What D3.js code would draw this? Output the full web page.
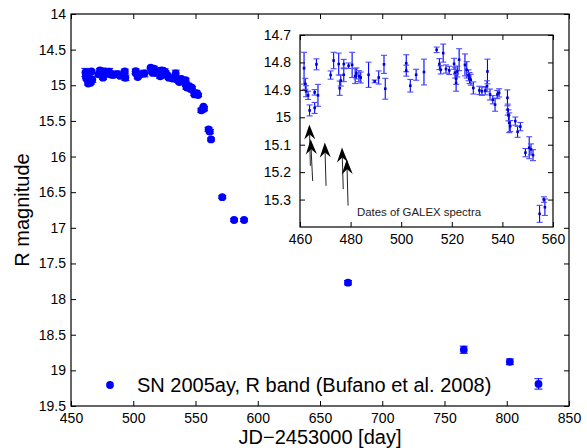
<!DOCTYPE html>
<html>
<head>
<meta charset="utf-8">
<script src="https://cdn.jsdelivr.net/npm/d3@7"></script>
<style>
  body { margin: 0; background: #fff; }
  svg { display: block; font-family: "Liberation Sans", Arial, Helvetica, sans-serif; }
</style>
</head>
<body>
<svg id="chart"></svg>
<script>
// R band photometry, SN 2005ay (day = JD - 2453000)
const days = [461.6, 462.1, 462.4, 463.2, 463.8, 465.8, 465.8, 466.5, 467.1,
  472.1, 473.3, 475.3, 475.7, 476.1, 477.3, 477.3, 479.2, 480.6, 481.8, 482.3, 483.3, 484.0,
  487.1, 489.5, 491.1, 493.2, 493.7, 502.0, 502.0, 503.6, 505.9, 509.0,
  514.0, 515.1, 515.6, 516.6, 517.7, 519.0, 520.9, 521.3, 521.7, 521.7, 522.2, 522.9,
  525.2, 525.9, 526.6, 527.0, 527.5, 528.5, 530.9, 531.9, 533.2, 533.9, 534.1, 535.1,
  536.2, 537.1, 538.0, 538.7, 542.0, 542.1, 542.4, 542.7, 543.1, 545.1, 546.0, 547.1,
  549.1, 550.6, 551.3, 552.1, 554.7, 556.4, 556.8,
  560.5, 561.5, 562.5, 571.5, 581, 589, 672.5, 765.5, 802.5, 825.5];
const mags = [14.821, 14.878, 14.905, 14.92, 14.975, 14.909, 14.966, 14.807, 14.92,
  14.846, 14.793, 14.806, 14.894, 14.866, 14.806, 14.845, 14.812, 14.809, 14.85, 14.84, 14.85, 14.855,
  14.845, 14.869, 14.855, 14.807, 14.896, 14.803, 14.83, 14.885, 14.845, 14.835,
  14.754, 14.806, 14.827, 14.766, 14.824, 14.829, 14.805, 14.837, 14.86, 14.875, 14.833, 14.79,
  14.809, 14.827, 14.847, 14.857, 14.863, 14.893, 14.902, 14.905, 14.903, 14.887, 14.833, 14.917,
  14.936, 14.954, 14.917, 14.911, 14.929, 14.972, 14.993, 15.02, 15.032, 15.014, 15.053, 15.034,
  15.129, 15.111, 15.117, 15.138, 15.352, 15.30, 15.328,
  15.62, 15.65, 15.76, 16.57, 16.89, 16.89, 17.77, 18.71, 18.88, 19.19];
const errs = [0.058, 0.02, 0.02, 0.015, 0.02, 0.01, 0.02, 0.02, 0.04,
  0.015, 0.03, 0.04, 0.026, 0.02, 0.017, 0.025, 0.01, 0.046, 0.027, 0.02, 0.02, 0.02,
  0.046, 0.005, 0.024, 0.033, 0.038, 0.031, 0.02, 0.023, 0.02, 0.047,
  0.01, 0.02, 0.015, 0.033, 0.015, 0.015, 0.02, 0.02, 0.02, 0.03, 0.02, 0.04,
  0.04, 0.03, 0.02, 0.02, 0.02, 0.022, 0.015, 0.015, 0.015, 0.02, 0.045, 0.02,
  0.015, 0.024, 0.015, 0.015, 0.029, 0.02, 0.02, 0.036, 0.02, 0.015, 0.02, 0.015,
  0.015, 0.04, 0.02, 0.02, 0.031, 0.01, 0.03,
  0.03, 0.03, 0.02, 0.02, 0.02, 0.02, 0.03, 0.05, 0.04, 0.073];

const xTicks = [450, 500, 550, 600, 650, 700, 750, 800, 850];
const yTicks = [14, 14.5, 15, 15.5, 16, 16.5, 17, 17.5, 18, 18.5, 19, 19.5];
const insetXTicks = [460, 480, 500, 520, 540, 560];
const insetYTicks = [14.7, 14.8, 14.9, 15, 15.1, 15.2, 15.3];

// GALEX spectra arrows in inset data units: tail -> tip
const arrowTailDay = [464.1, 465.0, 470.3, 477.1, 479.0];
const arrowTailMag = [15.177, 15.232, 15.25, 15.262, 15.322];
const arrowTipDay = [463.7, 464.2, 469.8, 476.6, 478.5];
const arrowTipMag = [15.026, 15.08, 15.092, 15.11, 15.153];

const legendLabel = 'SN 2005ay, R band (Bufano et al. 2008)';

const width = 587;
const height = 448;
const blue = '#0000ff';
const font = 14;

const svg = d3.select('#chart').attr('width', width).attr('height', height);

const data = days.map((d, i) => ({ day: d, mag: mags[i], err: errs[i] }));

// ---- main axes
const main = { left: 71, right: 569, top: 14, bottom: 406 };
const x = d3.scaleLinear().domain([450, 850]).range([main.left, main.right]);
const y = d3.scaleLinear().domain([14, 19.5]).range([main.top, main.bottom]);

const drawAxes = (box, xs, ys, xt, yt, xpad, ypad, fmtY) => {
  const g = svg.append('g');
  g.append('g').attr('transform', `translate(0,${box.bottom})`)
    .call(d3.axisBottom(xs).tickValues(xt).tickSize(-5).tickPadding(xpad).tickFormat(d => d));
  g.append('g').attr('transform', `translate(${box.left},0)`)
    .call(d3.axisLeft(ys).tickValues(yt).tickSize(-5).tickPadding(ypad).tickFormat(fmtY));
  g.append('g').attr('transform', `translate(0,${box.top})`)
    .call(d3.axisTop(xs).tickValues(xt).tickSize(-5).tickFormat(''));
  g.append('g').attr('transform', `translate(${box.right},0)`)
    .call(d3.axisRight(ys).tickValues(yt).tickSize(-5).tickFormat(''));
  g.selectAll('.domain').remove();
  g.selectAll('.tick line').attr('stroke', '#000');
  g.selectAll('.tick text').attr('font-size', font).attr('fill', '#000')
    .attr('font-family', '"Liberation Sans", Arial, sans-serif');
  g.append('rect')
    .attr('x', box.left).attr('y', box.top)
    .attr('width', box.right - box.left).attr('height', box.bottom - box.top)
    .attr('fill', 'none').attr('stroke', '#000').attr('stroke-width', 1.2);
};

drawAxes(main, x, y, xTicks, yTicks, 7.5, 5, d => d);

// main data: error bars + circles
const mg = svg.append('g');
mg.selectAll('line.err').data(data).enter().append('line')
  .attr('x1', d => x(d.day)).attr('x2', d => x(d.day))
  .attr('y1', d => y(d.mag - d.err)).attr('y2', d => y(d.mag + d.err))
  .attr('stroke', blue).attr('stroke-width', 1);
[-1, 1].forEach(s => {
  mg.selectAll(null).data(data).enter().append('line')
    .attr('x1', d => x(d.day) - 4).attr('x2', d => x(d.day) + 4)
    .attr('y1', d => y(d.mag + s * d.err)).attr('y2', d => y(d.mag + s * d.err))
    .attr('stroke', blue).attr('stroke-width', 1);
});
mg.selectAll('circle').data(data).enter().append('circle')
  .attr('cx', d => x(d.day)).attr('cy', d => y(d.mag)).attr('r', 3.9)
  .attr('fill', blue);

// axis labels
svg.append('text').attr('x', (main.left + main.right) / 2).attr('y', 444)
  .attr('text-anchor', 'middle').attr('font-size', 20).text('JD\u22122453000 [day]');
svg.append('text').attr('transform', `translate(29,${(main.top + main.bottom) / 2}) rotate(-90)`)
  .attr('text-anchor', 'middle').attr('font-size', 20).text('R magnitude');

// legend
svg.append('circle').attr('cx', 110).attr('cy', 385).attr('r', 3.9).attr('fill', blue);
svg.append('text').attr('x', 137).attr('y', 392).attr('font-size', 20).text(legendLabel);

// ---- inset
const ins = { left: 300, right: 553, top: 35, bottom: 227 };
const xi = d3.scaleLinear().domain([460, 560]).range([ins.left, ins.right]);
const yi = d3.scaleLinear().domain([14.7, 15.4]).range([ins.top, ins.bottom]);

svg.append('rect')
  .attr('x', ins.left).attr('y', ins.top)
  .attr('width', ins.right - ins.left).attr('height', ins.bottom - ins.top)
  .attr('fill', '#fff');

const inData = data.filter(d => d.day <= 560);
const ig = svg.append('g');
ig.selectAll('line.err').data(inData).enter().append('line')
  .attr('x1', d => xi(d.day)).attr('x2', d => xi(d.day))
  .attr('y1', d => yi(d.mag - d.err)).attr('y2', d => yi(d.mag + d.err))
  .attr('stroke', blue).attr('stroke-width', 1.1);
[-1, 1].forEach(s => {
  ig.selectAll(null).data(inData).enter().append('line')
    .attr('x1', d => xi(d.day) - 3).attr('x2', d => xi(d.day) + 3)
    .attr('y1', d => yi(d.mag + s * d.err)).attr('y2', d => yi(d.mag + s * d.err))
    .attr('stroke', '#4d4dff').attr('stroke-width', 1.1);
});
ig.selectAll('rect').data(inData).enter().append('rect')
  .attr('x', d => xi(d.day) - 1.3).attr('y', d => yi(d.mag) - 1.3)
  .attr('width', 2.6).attr('height', 2.6).attr('fill', '#0000cc');

drawAxes(ins, xi, yi, insetXTicks, insetYTicks, 7, 9, d => +d.toFixed(1));

// arrows
const ag = svg.append('g');
arrowTipDay.forEach((td, i) => {
  const x0 = xi(arrowTailDay[i]), y0 = yi(arrowTailMag[i]);
  const x1 = xi(td), y1 = yi(arrowTipMag[i]);
  const len = Math.hypot(x1 - x0, y1 - y0);
  const ux = (x1 - x0) / len, uy = (y1 - y0) / len;
  const nx = -uy, ny = ux;
  const L = 15, W = 5.5, notch = 5;
  ag.append('line')
    .attr('x1', x0).attr('y1', y0)
    .attr('x2', x1 - ux * (L - notch)).attr('y2', y1 - uy * (L - notch))
    .attr('stroke', '#222').attr('stroke-width', 1);
  const pts = [
    [x1, y1],
    [x1 - ux * L + nx * W, y1 - uy * L + ny * W],
    [x1 - ux * (L - notch), y1 - uy * (L - notch)],
    [x1 - ux * L - nx * W, y1 - uy * L - ny * W]
  ];
  ag.append('path').attr('d', 'M' + pts.map(p => p.join(',')).join('L') + 'Z')
    .attr('fill', '#000');
});

svg.append('text').attr('x', 357).attr('y', 216).attr('font-size', 11.4)
  .attr('fill', '#222').text('Dates of GALEX spectra');
</script>
</body>
</html>
